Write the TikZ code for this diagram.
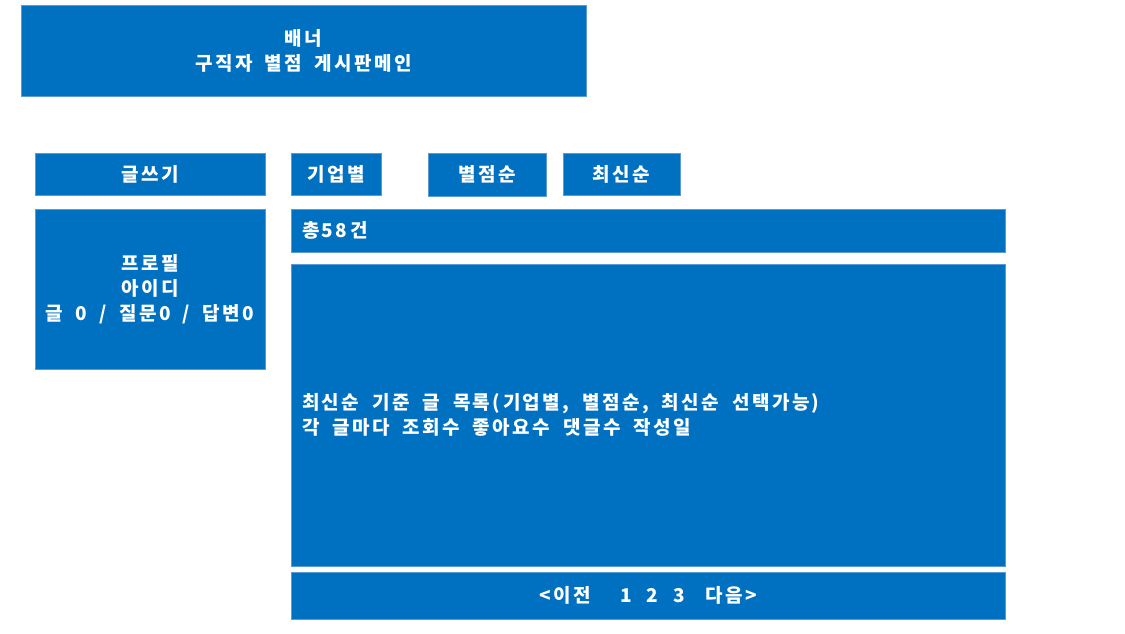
\documentclass[tikz,border=0pt]{standalone}
\usepackage{fontspec}
\setmainfont{Noto Sans CJK KR}[LetterSpace=13, WordSpace=1.8]
\usepackage{xcolor}
\definecolor{boardBlue}{HTML}{0070C0}
\definecolor{boardEdge}{HTML}{5B9BD5}
\tikzset{
  panel/.style={fill=boardBlue, draw=boardEdge, line width=0.6pt, text=white,
    inner sep=0pt, font=\bfseries\fontsize{19}{25}\selectfont, align=center},
  leftpanel/.style={panel, inner xsep=11pt, align=left,
    execute at begin node={\spaceskip=0.68em\relax}}
}

\begin{document}
\begin{tikzpicture}[x=1pt, y=-1pt]
  \useasboundingbox (0,0) rectangle (1125,633);

  % banner
  \node[panel, minimum width=565, minimum height=91] (banner) at (303.5,50.5)
    {배너\\구직자 별점 게시판메인};

  % left column
  \node[panel, minimum width=230, minimum height=42] (write) at (150,174) {글쓰기};
  \node[panel, minimum width=230, minimum height=160] (profile) at (150,289)
    {프로필\\아이디\\글 0 / 질문0 / 답변0};

  % sort buttons
  \node[panel, minimum width=90, minimum height=42] (byCompany) at (336,174) {기업별};
  \node[panel, minimum width=118, minimum height=43] (byStars) at (487,174.5) {별점순};
  \node[panel, minimum width=117, minimum height=42] (byNewest) at (621.5,174) {최신순};

  % board
  \node[leftpanel, text width=692, minimum height=43] (count) at (648,230.5) {총58건};
  \node[leftpanel, text width=692, minimum height=302] (list) at (648,415)
    {최신순 기준 글 목록(기업별, 별점순, 최신순 선택가능)\\각 글마다 조회수 좋아요수 댓글수 작성일};
  \node[panel, minimum width=714, minimum height=47] (pager) at (648,595.5)
    {<이전\hspace{1.55em}1\hspace{0.8em}2\hspace{0.8em}3\hspace{1.05em}다음>};
\end{tikzpicture}
\end{document}
